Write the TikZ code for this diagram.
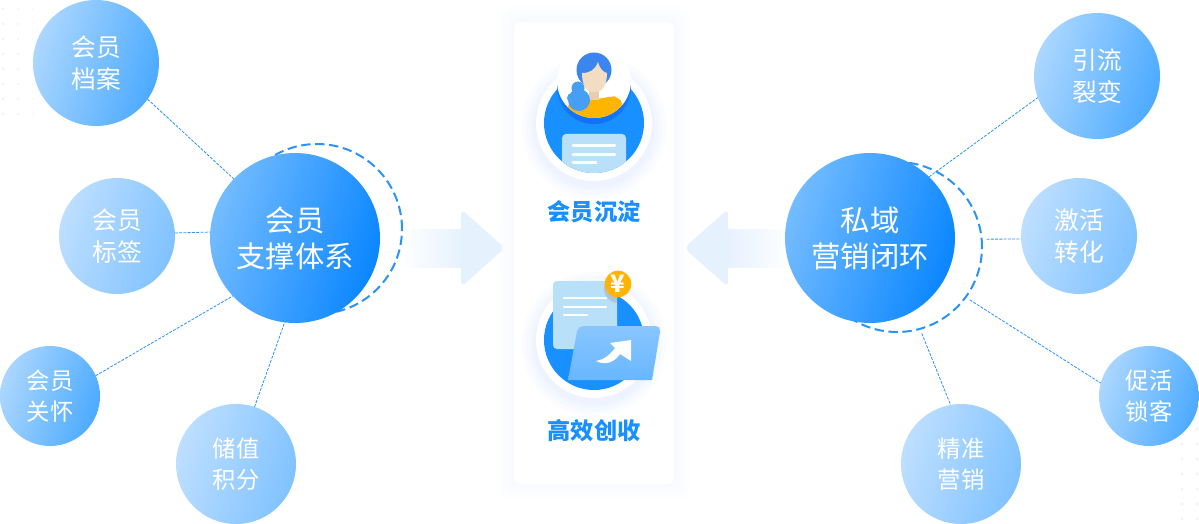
\documentclass[tikz,border=0pt]{standalone}
\usepackage{fontspec}
\setmainfont{Noto Sans CJK SC}
\definecolor{blueA}{HTML}{1890FF}
\definecolor{blueB}{HTML}{0A86FF}
\definecolor{blueC}{HTML}{74BCFF}
\definecolor{blueD}{HTML}{1270F5}
\definecolor{midL}{HTML}{ACD7FF}
\definecolor{midR}{HTML}{4CAAFF}
\definecolor{softL}{HTML}{BEDFFF}
\definecolor{softR}{HTML}{80C2FF}
\definecolor{lineblue}{HTML}{2A93F5}
\definecolor{arrowblue}{HTML}{E6F1FE}
\definecolor{dotblue}{HTML}{EDF4FD}
\definecolor{haloblue}{HTML}{D6E2FF}
\definecolor{paper}{HTML}{B8E0F8}
\definecolor{coin}{HTML}{FFB400}
\definecolor{hair}{HTML}{3A86EE}
\definecolor{braid}{HTML}{469EF5}
\definecolor{skin}{HTML}{F2DCC2}
\definecolor{neck}{HTML}{E9CDAF}
\tikzset{
  bubble/.style={circle,inner sep=0pt,outer sep=0pt,text=white,align=center},
  midball/.style={bubble,left color=midL,right color=midR,shading angle=72,
    font=\fontsize{17.5pt}{23.5pt}\selectfont},
  softball/.style={bubble,left color=softL,right color=softR,shading angle=72,
    font=\fontsize{17.5pt}{23.5pt}\selectfont},
  hubball/.style={bubble,left color=blueC,right color=blueB,shading angle=72,minimum size=127.5pt,
    font=\fontsize{22pt}{27pt}\selectfont},
  ringball/.style={circle,draw=lineblue,line width=1.5pt,dash pattern=on 7pt off 3.5pt,
    minimum size=127.5pt,inner sep=0pt,outer sep=3.7pt},
  link/.style={draw=lineblue,line width=.6pt,dash pattern=on 2.2pt off 1pt},
  caption/.style={text=blueA,font=\fontsize{17.4pt}{20pt}\selectfont\bfseries},
  rule/.style={white,line width=2pt,line cap=round},
  panel/.style={fill=white,rounded corners=5pt,minimum width=120pt,minimum height=346.5pt,inner sep=0pt},
}
\begin{document}
\begin{tikzpicture}[x=.75pt,y=-.75pt]
\useasboundingbox (0,0) rectangle (1199,524);
% dots in the corners
\foreach \x/\o in {3/1,18/.8,33/.5,48/.25}
  \foreach \y in {9,24,...,114}
    \fill[dotblue,opacity=\o] (\x,\y) circle (1.5);
\foreach \x in {1182,1197}
  \foreach \y in {429,444,...,519}
    \fill[dotblue] (\x,\y) circle (1.6);
% middle panel
\foreach \s in {16,14,12,10,8,6,4,2}
  \fill[haloblue,opacity=.025,rounded corners=8pt] (514-\s,22-\s) rectangle (674+\s,484+\s);
\node[panel] (card) at (594,253) {};
% big arrows
\fill[left color=white,right color=arrowblue] (400,229) rectangle (463,267);
\fill[arrowblue,rounded corners=4pt] (461,209) -- (505,248) -- (461,287) -- cycle;
\fill[left color=arrowblue,right color=white] (726,229) rectangle (790,267);
\fill[arrowblue,rounded corners=4pt] (728,209) -- (684,248) -- (728,287) -- cycle;
% upper icon
\foreach \s in {14,10,6,3}
  \fill[haloblue,opacity=.1] (594,127) circle (58+\s);
\fill[white] (594,123) circle (58);
\fill[blueA] (594,123) circle (50);
\shade[top color=blueA,bottom color=blueD] (594,87) circle (37);
\fill[white] (594,81) circle (37);
\begin{scope}
  \clip (594,81) circle (37);
  \fill[coin,rounded corners=4pt] (566,112) -- (570,101) -- (589,99) -- (599,99) -- (610,96.5) -- (618,96.5) -- (623,104) -- (624,125) -- (566,125) -- cycle;
\end{scope}
\fill[hair] (594,70) circle (17.5);
\fill[neck] (589,88) rectangle (599,100);
\fill[skin] (582,73) .. controls (590,73) and (595,70) .. (598,62) .. controls (600,69) and (603,72) .. (607,73) .. controls (607,85) and (603,92) .. (594,92) .. controls (586,92) and (582,85) .. (582,73) -- cycle;
\fill[braid] (578,88) circle (6.5) (579,100) circle (11) (572,98) circle (5);
\begin{scope}
  \clip (594,123) circle (50);
  \fill[paper,rounded corners=3pt] (562,134) rectangle (626,180);
\end{scope}
\draw[rule] (573,145.5) -- (615,145.5);
\draw[rule] (573,154.5) -- (615,154.5);
\draw[rule] (573,162.5) -- (596,162.5);
\node[caption] (keep) at (594,212) {会员沉淀};
% lower icon
\foreach \s in {14,10,6,3}
  \fill[haloblue,opacity=.1] (594,344) circle (58+\s);
\fill[white] (594,340) circle (58);
\fill[blueA] (594,340) circle (50);
\fill[paper,rounded corners=3pt] (553,281) rectangle (617,349);
\begin{scope}
  \clip (553,281) rectangle (617,349);
  \fill[black!35,opacity=.45] (618,289) circle (14);
\end{scope}
\draw[rule] (564,298) -- (606,298);
\draw[rule] (564,307) -- (606,307);
\draw[rule] (564,315) -- (587,315);
\node[circle,fill=coin,minimum size=20pt,inner sep=0pt,text=white,font=\fontsize{18pt}{18pt}\selectfont\bfseries] (yen) at (618,284) {¥};
\shade[top color=blueC!85!white,bottom color=blueC!70!midR] (568,380) [rounded corners=4pt] -- (578,326) -- (661,326) [sharp corners] -- (652,380) -- cycle;
\fill[white] (631,340) -- (610,343) -- (615,348) .. controls (610,355) and (603,360) .. (596,361) .. controls (605,366) and (615,362) .. (620,354) -- (631,361) -- cycle;
\node[caption] (earn) at (594,431) {高效创收};
% left group
\node[ringball] (ringL) at (317,229) {};
\node[hubball] (hubL) at (295,238) {会员\\支撑体系};
\node[midball,minimum size=94.5pt,font=\fontsize{18.5pt}{24pt}\selectfont] (archive) at (96,63) {会员\\档案};
\node[softball,minimum size=87pt,font=\fontsize{18.5pt}{24pt}\selectfont] (tag) at (117,236) {会员\\标签};
\node[midball,minimum size=75pt] (care) at (50,396) {会员\\关怀};
\node[softball,minimum size=90pt] (points) at (236,464) {储值\\积分};
\draw[link] (archive.-35.6) -- (hubL.136.8);
\draw[link] (tag.3) -- (hubL.176.7);
\draw[link] (care.24.2) -- (hubL.-137.8);
\draw[link] (points.72) -- (hubL.-97.2);
% right group
\node[ringball] (ringR) at (897,247) {};
\node[hubball] (hubR) at (870,238) {私域\\营销闭环};
\node[midball,minimum size=94.5pt,font=\fontsize{18.5pt}{24pt}\selectfont] (fission) at (1097,76) {引流\\裂变};
\node[softball,minimum size=87pt,font=\fontsize{18.5pt}{24pt}\selectfont] (convert) at (1079,236) {激活\\转化};
\node[midball,minimum size=75pt] (lock) at (1149,396) {促活\\锁客};
\node[softball,minimum size=90pt] (precise) at (961,464) {精准\\营销};
\draw[link] (hubR.46.3) -- (fission.200.1);
\draw[link] (ringR.5) -- (convert.183);
\draw[link] (ringR.-36.2) -- (lock.165.7);
\draw[link] (ringR.-74.6) -- (precise.100);
\end{tikzpicture}
\end{document}
